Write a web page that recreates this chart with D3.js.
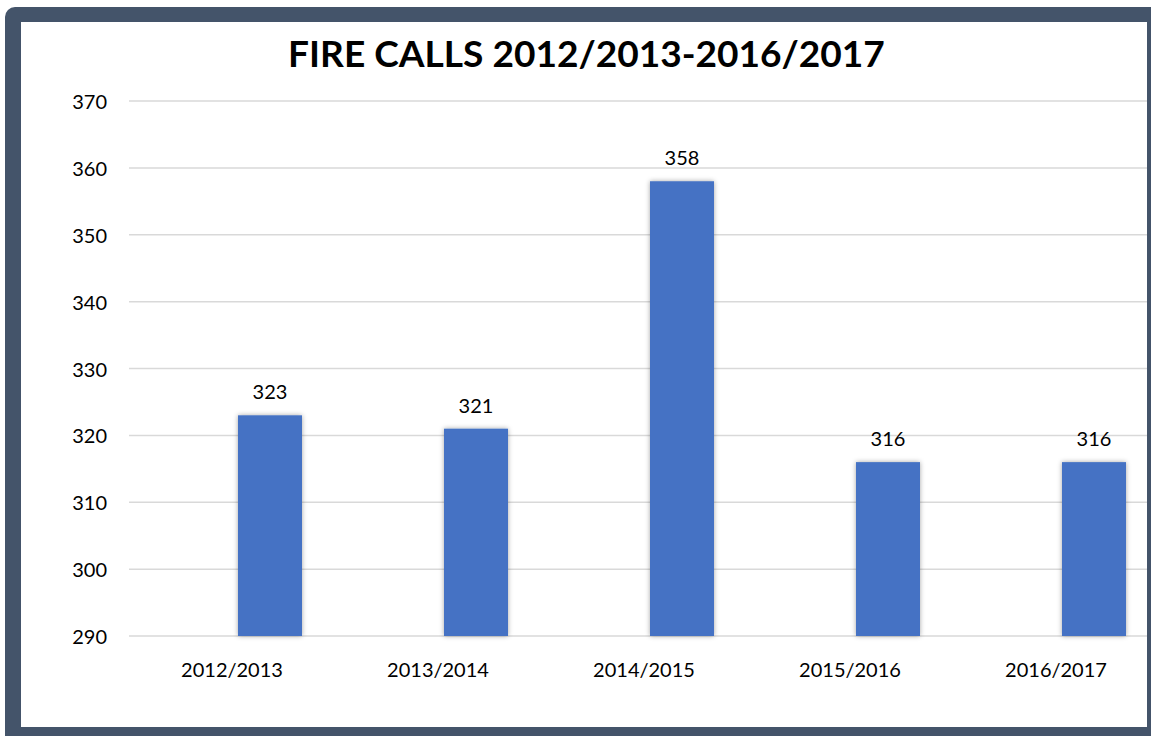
<!DOCTYPE html>
<html>
<head>
<meta charset="utf-8">
<script src="https://cdn.jsdelivr.net/npm/d3@7"></script>
<style>
  html, body { margin: 0; padding: 0; background: #ffffff; }
  svg { display: block; }
  text { font-family: Lato, "Open Sans", sans-serif; fill: #000; }
</style>
</head>
<body>
<svg id="chart" width="1151" height="736"></svg>
<script>
const categories = ["2012/2013", "2013/2014", "2014/2015", "2015/2016", "2016/2017"];
const values = [323, 321, 358, 316, 316];
const yTicks = [290, 300, 310, 320, 330, 340, 350, 360, 370];
const title = "FIRE CALLS 2012/2013-2016/2017";

const W = 1151, H = 736;
const svg = d3.select("#chart");

const defs = svg.append("defs");
const f = defs.append("filter").attr("id", "shadow").attr("x", "-30%").attr("y", "-10%").attr("width", "160%").attr("height", "120%");
f.append("feDropShadow").attr("dx", 0).attr("dy", 0).attr("stdDeviation", 2.5).attr("flood-color", "#000").attr("flood-opacity", 0.35);

defs.append("clipPath").attr("id", "panel")
  .append("rect").attr("x", 21).attr("y", 22).attr("width", 1126).attr("height", 705);

// frame
svg.append("rect").attr("x", 5).attr("y", 7).attr("width", 1170).attr("height", 745)
  .attr("rx", 10).attr("fill", "#44546A");
svg.append("rect").attr("x", 21).attr("y", 22).attr("width", 1126).attr("height", 705)
  .attr("fill", "#ffffff");

const plot = { left: 129, right: 1159, top: 101, bottom: 636 };

const x = d3.scaleBand().domain(categories).range([plot.left, plot.right]).paddingInner(0).paddingOuter(0);
const y = d3.scaleLinear().domain([290, 370]).range([plot.bottom, plot.top]);

const g = svg.append("g").attr("clip-path", "url(#panel)");

// gridlines
g.append("g").selectAll("line").data(yTicks).join("line")
  .attr("x1", plot.left).attr("x2", plot.right)
  .attr("y1", d => y(d)).attr("y2", d => y(d))
  .attr("stroke", "#d9d9d9").attr("stroke-width", 1.5);

// y tick labels
svg.append("g").selectAll("text").data(yTicks).join("text")
  .attr("x", 107).attr("y", d => y(d))
  .attr("text-anchor", "end").attr("dominant-baseline", "central")
  .style("font-size", "20px")
  .text(d => d);

// bars
const barW = 64, barOff = 6;
const bx = c => x(c) + x.bandwidth() / 2 + barOff;
g.append("g").selectAll("rect").data(categories).join("rect")
  .attr("x", d => bx(d))
  .attr("y", (d, i) => y(values[i]))
  .attr("width", barW)
  .attr("height", (d, i) => y(290) - y(values[i]))
  .attr("fill", "#4472C4")
  .attr("filter", "url(#shadow)");

// value labels
svg.append("g").selectAll("text").data(categories).join("text")
  .attr("x", d => bx(d) + barW / 2)
  .attr("y", (d, i) => y(values[i]) - 16)
  .attr("text-anchor", "middle")
  .style("font-size", "20px")
  .text((d, i) => values[i]);

// x labels
svg.append("g").selectAll("text").data(categories).join("text")
  .attr("x", d => x(d) + x.bandwidth() / 2)
  .attr("y", 677)
  .attr("text-anchor", "middle")
  .style("font-size", "20px")
  .text(d => d);

// title
const t = svg.append("text")
  .attr("x", 586.5).attr("y", 67)
  .attr("text-anchor", "middle")
  .style("font-size", "30px").style("font-weight", "bold")
  .text(title);
const tw = t.node().getComputedTextLength();
t.style("font-size", (30 * 597 / tw).toFixed(2) + "px");
</script>
</body>
</html>
